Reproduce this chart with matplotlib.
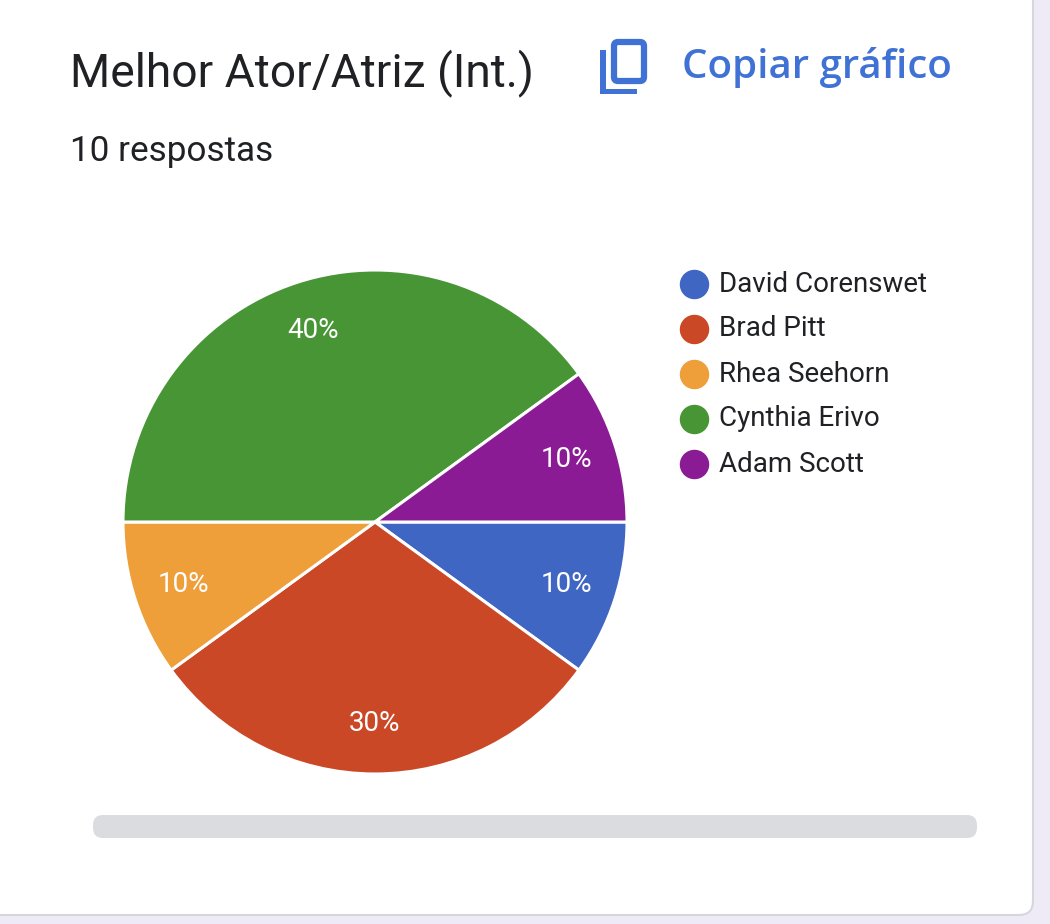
import matplotlib
matplotlib.use("Agg")
import matplotlib.pyplot as plt
from matplotlib.patches import FancyBboxPatch, Rectangle
import numpy as np

# ---- data ----
title = "Melhor Ator/Atriz (Int.)"
subtitle = "10 respostas"
copy_label = "Copiar gráfico"
names = ["David Corenswet", "Brad Pitt", "Rhea Seehorn", "Cynthia Erivo", "Adam Scott"]
votes = [1, 3, 1, 4, 1]
colors = ["#4066C3", "#CB4827", "#EF9F3A", "#479535", "#8A1B94"]

W, H, DPI = 1050, 924, 100
fig = plt.figure(figsize=(W / DPI, H / DPI), dpi=DPI)
fig.patch.set_facecolor("#EEEBF7")

# background axes in pixel coordinates (y down)
bg = fig.add_axes([0, 0, 1, 1])
bg.set_xlim(0, W)
bg.set_ylim(H, 0)
bg.axis("off")

# card
card = FancyBboxPatch((-30, -30), 1033 + 30, 915 + 30,
                      boxstyle="round,pad=0,rounding_size=14",
                      facecolor="white", edgecolor="#D6D6DE", linewidth=1.5)
bg.add_patch(card)

# title, subtitle
bg.text(70, 73, title, fontsize=33.2, family="Roboto", color="#202124",
        va="center", ha="left")
bg.text(70, 152, subtitle, fontsize=25.3, family="Roboto", color="#202124",
        va="center", ha="left")

# copy icon
blue = "#3F72D4"
bg.add_patch(FancyBboxPatch((614, 42), 30, 39, boxstyle="round,pad=0,rounding_size=4",
                            facecolor="none", edgecolor=blue, linewidth=4.5))
bg.add_patch(Rectangle((600, 50), 6, 44, facecolor=blue, edgecolor="none"))
bg.add_patch(Rectangle((600, 88.5), 37, 5.5, facecolor=blue, edgecolor="none"))
bg.text(682, 67, copy_label, fontsize=29, family="Open Sans", weight="semibold",
        color=blue, va="center", ha="left")

# scrollbar
bg.add_patch(FancyBboxPatch((93, 815), 884, 23, boxstyle="round,pad=0,rounding_size=10",
                            facecolor="#DADCE0", edgecolor="none"))

# legend
for i, (n, c) in enumerate(zip(names, colors)):
    y = 284 + 45 * i
    bg.scatter([694], [y], s=28 ** 2 * 0.52, color=c, zorder=3)
    bg.text(719, y, n, fontsize=20, family="Roboto", color="#202124",
            va="center", ha="left")

# pie
cx, cy, r = 375, 522, 252
ax = fig.add_axes([(cx - r) / W, (H - cy - r) / H, 2 * r / W, 2 * r / H])
wedges, texts, autotexts = ax.pie(
    votes, colors=colors, startangle=0, counterclock=False,
    autopct=lambda p: f"{p:.0f}%", pctdistance=0.8,
    wedgeprops=dict(edgecolor="white", linewidth=2.2),
    textprops=dict(color="white", fontsize=20, family="Roboto"))
ax.set_xlim(-1, 1)
ax.set_ylim(-1, 1)
ax.axis("off")

fig.savefig("out.png", dpi=DPI, facecolor=fig.get_facecolor())
